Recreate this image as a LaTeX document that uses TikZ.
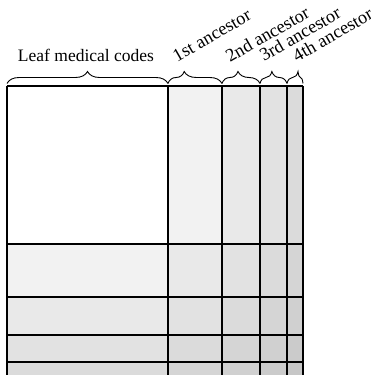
\documentclass[tikz,border=0pt]{standalone}
\usepackage{fontspec}
\setmainfont{Liberation Serif}
\usetikzlibrary{decorations.pathreplacing}
\begin{document}
\begin{tikzpicture}[x=1pt,y=1pt,
  gridline/.style={line width=1.3pt, black},
  bracestyle/.style={decorate, decoration={brace, amplitude=12pt, aspect=#1}, line width=0.9pt},
  lbl/.style={font=\fontsize{17.5}{20}\selectfont, inner sep=0pt},
  anc/.style={font=\fontsize{18.3}{20}\selectfont, inner sep=0pt, anchor=base west, rotate=30}]
\useasboundingbox (0,0) rectangle (371,375);
\clip (0,0) rectangle (371,375);
\def\grays{{0,5,8.5,11.5,14,16.5,18.5,20.5,22}}
% cells
\foreach \i/\ya/\yb in {0/289/131, 1/131/78, 2/78/40, 3/40/13, 4/13/-3}
  \foreach \j/\xa/\xb in {0/7/168, 1/168/222, 2/222/260, 3/260/287, 4/287/303} {
    \pgfmathsetmacro\g{\grays[\i+\j]}
    \fill[black!\g] (\xa,\ya) rectangle (\xb,\yb);
  }
% grid lines
\foreach \x in {7,168,222,260,287,303}
  \draw[gridline] (\x,289) -- (\x,-3);
\foreach \y in {289,131,78,40,13}
  \draw[gridline] (7,\y) -- (303,\y);
% brace end points
\coordinate (b0) at (7,291.5);
\coordinate (b1) at (168,291.5);
\coordinate (b2) at (222,291.5);
\coordinate (b3) at (260,291.5);
\coordinate (b4) at (287,291.5);
\coordinate (b5) at (303,291.5);
\draw[bracestyle=0.5] (b0) -- (b1);
\draw[bracestyle=0.3] (b1) -- (b2);
\draw[bracestyle=0.42] (b2) -- (b3);
\draw[bracestyle=0.44] (b3) -- (b4);
\draw[bracestyle=0.69] (b4) -- (b5);
% labels
\node[lbl, anchor=base] (leaf) at (86,313) {Leaf medical codes};
\node[anc] (a1) at (177,312.5) {1st ancestor};
\node[anc] (a2) at (230,312) {2nd ancestor};
\node[anc] (a3) at (264,313) {3rd ancestor};
\node[anc] (a4) at (297,312.5) {4th ancestor};
\end{tikzpicture}
\end{document}
